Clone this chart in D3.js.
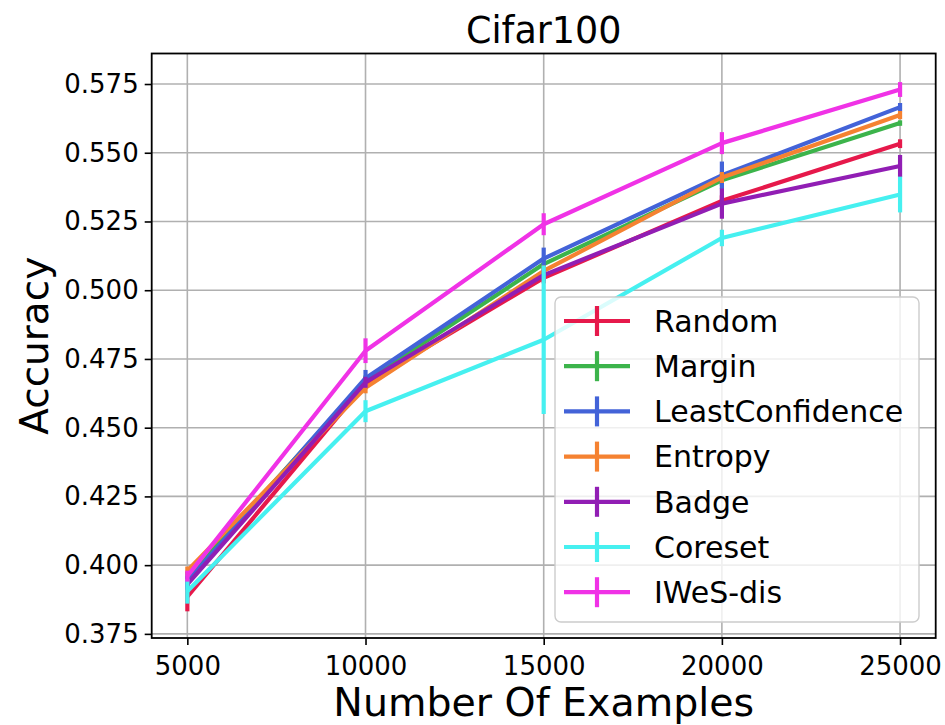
<!DOCTYPE html>
<html>
<head>
<meta charset="utf-8">
<script src="https://cdn.jsdelivr.net/npm/d3@7"></script>
<style>
  html, body { margin: 0; padding: 0; background: #fff; }
  svg { display: block; font-family: "DejaVu Sans", sans-serif; }
</style>
</head>
<body>
<svg id="chart" width="945" height="725"></svg>
<script>
// Sample sizes on the x axis
const examples = [5000, 10000, 15000, 20000, 25000];

// Method names, in legend order
const methods = ["Random", "Margin", "LeastConfidence", "Entropy", "Badge", "Coreset", "IWeS-dis"];

// Mean accuracy per method
const randomAcc   = [0.3885, 0.4660, 0.5045, 0.5325, 0.5533];
const marginAcc   = [0.3955, 0.4670, 0.5095, 0.5400, 0.5608];
const leastAcc    = [0.3940, 0.4680, 0.5115, 0.5418, 0.5666];
const entropyAcc  = [0.3980, 0.4645, 0.5070, 0.5410, 0.5637];
const badgeAcc    = [0.3930, 0.4665, 0.5055, 0.5315, 0.5452];
const coresetAcc  = [0.3905, 0.4560, 0.4820, 0.5190, 0.5348];
const iwesAcc     = [0.3960, 0.4780, 0.5240, 0.5535, 0.5730];

// Error bar half-widths per method
const randomErr   = [0.0053, 0.0020, 0.0020, 0.0020, 0.0016];
const marginErr   = [0.0020, 0.0020, 0.0020, 0.0020, 0.0010];
const leastErr    = [0.0020, 0.0030, 0.0040, 0.0050, 0.0015];
const entropyErr  = [0.0015, 0.0020, 0.0020, 0.0020, 0.0015];
const badgeErr    = [0.0020, 0.0020, 0.0020, 0.0055, 0.0040];
const coresetErr  = [0.0045, 0.0040, 0.0270, 0.0030, 0.0065];
const iwesErr     = [0.0020, 0.0045, 0.0040, 0.0040, 0.0027];

const colors = ["#e6194B", "#3cb44b", "#4363d8", "#f58231", "#911eb4", "#46f0f0", "#f032e6"];

const yTicks = [0.375, 0.400, 0.425, 0.450, 0.475, 0.500, 0.525, 0.550, 0.575];

const series = [
  { name: methods[0], acc: randomAcc,  err: randomErr },
  { name: methods[1], acc: marginAcc,  err: marginErr },
  { name: methods[2], acc: leastAcc,   err: leastErr },
  { name: methods[3], acc: entropyAcc, err: entropyErr },
  { name: methods[4], acc: badgeAcc,   err: badgeErr },
  { name: methods[5], acc: coresetAcc, err: coresetErr },
  { name: methods[6], acc: iwesAcc,    err: iwesErr }
].map((s, i) => ({ ...s, color: colors[i] }));

const svg = d3.select("#chart");
const plot = { left: 151.7, right: 935.7, top: 53.5, bottom: 638 };

const x = d3.scaleLinear().domain([4000, 26000]).range([plot.left, plot.right]);
const y = d3.scaleLinear().domain([0.3735, 0.5861]).range([plot.bottom, plot.top]);

// Grid
const grid = svg.append("g");
grid.selectAll("line.gx").data(examples).join("line")
  .attr("x1", d => x(d)).attr("x2", d => x(d))
  .attr("y1", plot.top).attr("y2", plot.bottom)
  .attr("stroke", "#b0b0b0").attr("stroke-width", 1.6);
grid.selectAll("line.gy").data(yTicks).join("line")
  .attr("x1", plot.left).attr("x2", plot.right)
  .attr("y1", d => y(d)).attr("y2", d => y(d))
  .attr("stroke", "#b0b0b0").attr("stroke-width", 1.6);

// Axes
const xAxis = d3.axisBottom(x).tickValues(examples).tickFormat(d3.format("d"))
  .tickSizeInner(7).tickSizeOuter(0).tickPadding(6);
const yAxis = d3.axisLeft(y).tickValues(yTicks).tickFormat(d3.format(".3f"))
  .tickSizeInner(7).tickSizeOuter(0).tickPadding(6);

const gx = svg.append("g").attr("transform", `translate(0,${plot.bottom})`).call(xAxis);
const gy = svg.append("g").attr("transform", `translate(${plot.left},0)`).call(yAxis);
[gx, gy].forEach(g => {
  g.select(".domain").remove();
  g.selectAll(".tick line").attr("stroke", "#000").attr("stroke-width", 1.6);
  g.selectAll(".tick text").attr("fill", "#000").style("font-size", "26px")
    .style("font-family", "'DejaVu Sans', sans-serif");
});
gx.selectAll(".tick text").attr("dy", "0.92em");

// Series: line then error bars, later series drawn on top
const line = d3.line().x((d, i) => x(examples[i])).y(d => y(d));
series.forEach(s => {
  const g = svg.append("g");
  g.append("path").datum(s.acc).attr("d", line)
    .attr("fill", "none").attr("stroke", s.color).attr("stroke-width", 4.2)
    .attr("stroke-linejoin", "round");
  g.selectAll("line").data(s.acc).join("line")
    .attr("x1", (d, i) => x(examples[i])).attr("x2", (d, i) => x(examples[i]))
    .attr("y1", (d, i) => y(d - s.err[i])).attr("y2", (d, i) => y(d + s.err[i]))
    .attr("stroke", s.color).attr("stroke-width", 4.2);
});

// Frame
svg.append("rect").attr("x", plot.left).attr("y", plot.top)
  .attr("width", plot.right - plot.left).attr("height", plot.bottom - plot.top)
  .attr("fill", "none").attr("stroke", "#000").attr("stroke-width", 1.8);

// Legend
const lg = svg.append("g");
lg.append("rect").attr("x", 555).attr("y", 297).attr("width", 364).attr("height", 325)
  .attr("rx", 6).attr("fill", "#fff").attr("fill-opacity", 0.8)
  .attr("stroke", "#cccccc").attr("stroke-width", 1.4);
series.forEach((s, i) => {
  const cy = 321 + i * 45.2;
  lg.append("line").attr("x1", 564).attr("x2", 630).attr("y1", cy).attr("y2", cy)
    .attr("stroke", s.color).attr("stroke-width", 4.2);
  lg.append("line").attr("x1", 597).attr("x2", 597).attr("y1", cy - 15).attr("y2", cy + 15)
    .attr("stroke", s.color).attr("stroke-width", 4.2);
  lg.append("text").attr("x", 654).attr("y", cy).attr("dy", "0.36em")
    .style("font-size", "30px").attr("fill", "#000").text(s.name);
});

// Titles
svg.append("text").attr("x", (plot.left + plot.right) / 2).attr("y", 43)
  .attr("text-anchor", "middle").style("font-size", "36.5px").text("Cifar100");
svg.append("text").attr("x", (plot.left + plot.right) / 2).attr("y", 716)
  .attr("text-anchor", "middle").style("font-size", "39.5px").text("Number Of Examples");
svg.append("text")
  .attr("transform", `translate(48,${(plot.top + plot.bottom) / 2}) rotate(-90)`)
  .attr("text-anchor", "middle").style("font-size", "39px").text("Accuracy");
</script>
</body>
</html>
